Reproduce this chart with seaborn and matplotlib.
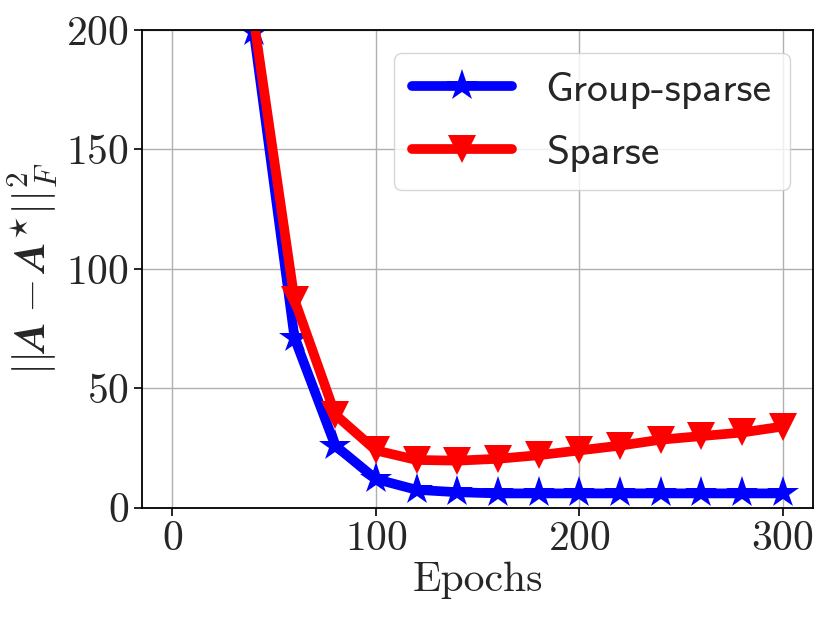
import numpy as np
import pandas as pd
import matplotlib
matplotlib.use("Agg")
import matplotlib.pyplot as plt
import seaborn as sns

# values (first two points lie above the visible range)
epochs = [0, 20, 40, 60, 80, 100, 120, 140, 160, 180, 200, 220, 240, 260, 280, 300]
group_sparse = [700, 420, 199, 71, 26, 12, 7.5, 6.5, 6, 6, 6, 6, 6, 6, 6, 6]
sparse = [720, 440, 204, 87, 39, 24, 20, 19.7, 20.5, 22, 24, 26, 28.5, 30, 31.5, 34]

sns.set_style("ticks")
plt.rcParams["font.family"] = "cmr10"
plt.rcParams["mathtext.fontset"] = "cm"
plt.rcParams["axes.formatter.use_mathtext"] = True
plt.rcParams["axes.unicode_minus"] = False

fig = plt.figure(figsize=(8.3, 6.23), dpi=100)
ax = fig.add_axes([0.171, 0.185, 0.809, 0.767])

df = pd.DataFrame({"epoch": epochs, "gs": group_sparse, "sp": sparse})

sns.lineplot(data=df, x="epoch", y="gs", ax=ax, color="blue", lw=7,
             marker="*", markersize=24, markeredgewidth=0, label="Group-sparse")
sns.lineplot(data=df, x="epoch", y="sp", ax=ax, color="red", lw=7,
             marker="v", markersize=20, markeredgewidth=0, label="Sparse")

ax.set_xlim(-15, 315)
ax.set_ylim(0, 200)
ax.set_xticks([0, 100, 200, 300])
ax.set_yticks([0, 50, 100, 150, 200])
ax.grid(True, color="#b0b0b0", lw=1)
ax.tick_params(labelsize=30, length=6, width=1.2, color="black")
for s in ax.spines.values():
    s.set_color("black")
    s.set_linewidth(1.3)

ax.set_xlabel("Epochs", fontsize=30, labelpad=2)
ax.set_ylabel(r"$||\mathbfit{A} - \mathbfit{A}^{\star}||_F^2$", fontsize=32, labelpad=4)

leg = ax.legend(loc="upper right", prop={"family": "cmss10", "size": 30},
                handlelength=2.4, labelspacing=0.62, borderpad=0.45,
                borderaxespad=0.55, framealpha=0.8)
leg.get_frame().set_edgecolor("#cccccc")

fig.savefig("out.png", dpi=100)
